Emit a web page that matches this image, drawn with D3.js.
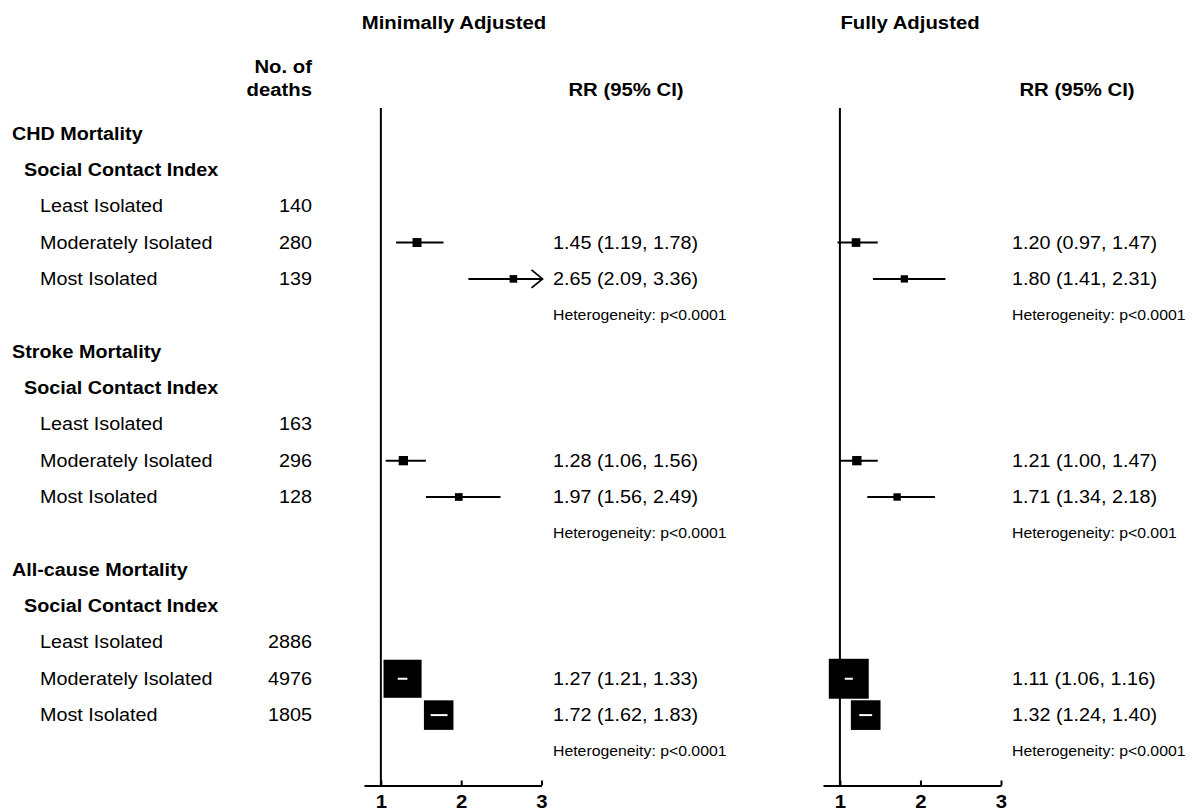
<!DOCTYPE html>
<html>
<head>
<meta charset="utf-8">
<script src="https://cdn.jsdelivr.net/npm/d3@7"></script>
<style>
  html, body { margin: 0; padding: 0; background: #fff; }
  svg { display: block; font-family: "Liberation Sans", Arial, sans-serif; }
</style>
</head>
<body>
<svg id="chart" width="1199" height="812"></svg>
<script>
// ---- data ----
const outcomes = ["CHD Mortality", "Stroke Mortality", "All-cause Mortality"];
const indexName = "Social Contact Index";
const categories = ["Least Isolated", "Moderately Isolated", "Most Isolated"];
const deaths = [[140, 280, 139], [163, 296, 128], [2886, 4976, 1805]];

// relative risks vs. Least Isolated (reference), for Moderately and Most Isolated
const minimalRR = [[1.45, 2.65], [1.28, 1.97], [1.27, 1.72]];
const minimalLo = [[1.19, 2.09], [1.06, 1.56], [1.21, 1.62]];
const minimalHi = [[1.78, 3.36], [1.56, 2.49], [1.33, 1.83]];
const minimalHet = ["p<0.0001", "p<0.0001", "p<0.0001"];

const fullRR = [[1.20, 1.80], [1.21, 1.71], [1.11, 1.32]];
const fullLo = [[0.97, 1.41], [1.00, 1.34], [1.06, 1.24]];
const fullHi = [[1.47, 2.31], [1.47, 2.18], [1.16, 1.40]];
const fullHet = ["p<0.0001", "p<0.001", "p<0.0001"];

const tickValues = [1, 2, 3];
const axisMin = 0.79, axisMax = 3;

// ---- layout ----
const svg = d3.select("#chart");
const SX = 1.13;               // horizontal text stretch
const rowY = i => 133.5 + 36.35 * i;
const axisY = 785.5;
const lineTop = 108;

function label(x, y, str, opt = {}) {
  return svg.append("text")
    .attr("transform", `translate(${x},${y}) scale(${SX},1)`)
    .attr("text-anchor", opt.anchor || "start")
    .attr("font-size", opt.size || 17.5)
    .attr("font-weight", opt.bold ? "bold" : "normal")
    .attr("fill", "#000")
    .text(str);
}

// ---- left text columns ----
label(312, 73, "No. of", {anchor: "end", bold: true, size: 18});
label(312, 95.5, "deaths", {anchor: "end", bold: true, size: 18});

outcomes.forEach((o, k) => {
  const base = k * 6;
  label(12, rowY(base) + 6, o, {bold: true});
  label(24, rowY(base + 1) + 6, indexName, {bold: true});
  categories.forEach((c, j) => {
    label(40, rowY(base + 2 + j) + 6, c);
    label(312, rowY(base + 2 + j) + 6, deaths[k][j], {anchor: "end"});
  });
});

// ---- forest panels ----
const fmt = d3.format(".2f");
const panels = [
  {title: "Minimally Adjusted", titleX: 454, range: [364, 541.5], textX: 553, rrX: 626,
   rr: minimalRR, lo: minimalLo, hi: minimalHi, het: minimalHet},
  {title: "Fully Adjusted", titleX: 910, range: [823, 1001], textX: 1012, rrX: 1077,
   rr: fullRR, lo: fullLo, hi: fullHi, het: fullHet}
];

panels.forEach(p => {
  const x = d3.scaleLinear().domain([axisMin, axisMax]).range(p.range);

  label(p.titleX, 28.5, p.title, {anchor: "middle", bold: true, size: 18});
  label(p.rrX, 95.5, "RR (95% CI)", {anchor: "middle", bold: true, size: 18});

  // null line at RR = 1
  svg.append("line")
    .attr("x1", x(1)).attr("x2", x(1))
    .attr("y1", lineTop).attr("y2", axisY)
    .attr("stroke", "#000").attr("stroke-width", 2);

  // axis
  const axis = d3.axisBottom(x)
    .tickValues(tickValues)
    .tickSize(-5)
    .tickSizeOuter(0)
    .tickPadding(10)
    .tickFormat(d3.format("d"));
  const ag = svg.append("g").attr("transform", `translate(0,${axisY})`).call(axis);
  ag.select(".domain").attr("stroke", "#000").attr("stroke-width", 2);
  ag.selectAll(".tick line").attr("stroke", "#000").attr("stroke-width", 2);
  ag.selectAll(".tick text")
    .attr("font-family", "'Liberation Sans', Arial, sans-serif")
    .attr("font-size", 18).attr("font-weight", "bold").attr("fill", "#000")
    .attr("dy", "0.71em")
    .attr("transform", `scale(${SX},1)`)
    .attr("x", 0);

  outcomes.forEach((o, k) => {
    const base = k * 6;
    [0, 1].forEach(j => {
      const y = rowY(base + 3 + j);
      const rr = p.rr[k][j], lo = p.lo[k][j], hi = p.hi[k][j];
      const side = 3.6 / Math.log(hi / lo);        // box side ~ precision
      const x0 = x(Math.max(lo, axisMin)), x1 = x(Math.min(hi, axisMax));
      const inside = x0 >= x(rr) - side / 2 && x1 <= x(rr) + side / 2;

      if (!inside) {
        svg.append("line").attr("x1", x0).attr("x2", x1).attr("y1", y).attr("y2", y)
          .attr("stroke", "#000").attr("stroke-width", 2);
      }
      if (hi > axisMax) {
        svg.append("path")
          .attr("d", `M${x1 - 10},${y - 9} L${x1 + 1},${y} L${x1 - 10},${y + 9}`)
          .attr("fill", "none").attr("stroke", "#000").attr("stroke-width", 1.8);
      }
      svg.append("rect")
        .attr("x", x(rr) - side / 2).attr("y", y - side / 2)
        .attr("width", side).attr("height", side)
        .attr("fill", "#000");
      if (inside) {
        svg.append("line").attr("x1", x0).attr("x2", x1).attr("y1", y).attr("y2", y)
          .attr("stroke", "#fff").attr("stroke-width", 2);
      }

      label(p.textX, y + 6, `${fmt(rr)} (${fmt(lo)}, ${fmt(hi)})`);
    });
    label(p.textX, rowY(base + 5) + 5, `Heterogeneity: ${p.het[k]}`, {size: 14});
  });
});
</script>
</body>
</html>
